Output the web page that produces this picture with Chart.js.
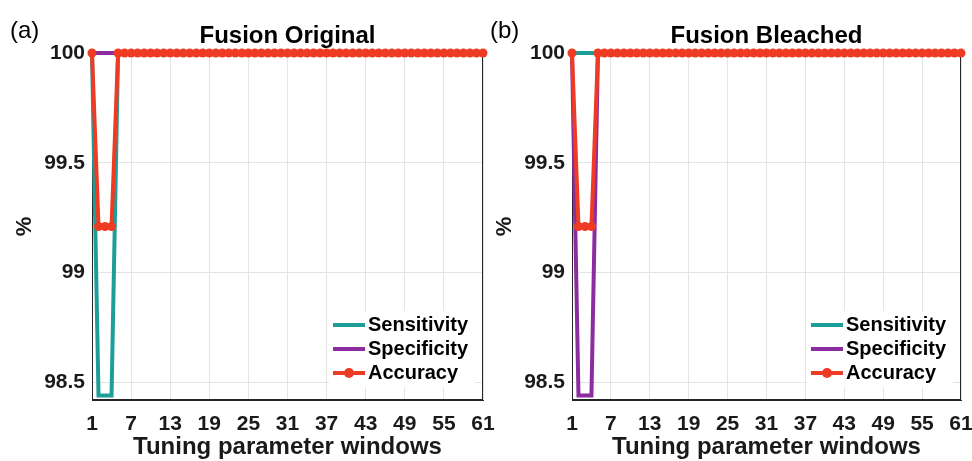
<!DOCTYPE html>
<html>
<head>
<meta charset="utf-8">
<script src="https://cdn.jsdelivr.net/npm/chart.js@4.4.0/dist/chart.umd.min.js"></script>
<style>
  body { margin: 0; background: #fff; }
  #wrap { position: relative; width: 972px; height: 461px; overflow: hidden; }
  canvas { position: absolute; top: 0; }
</style>
</head>
<body>
<div id="wrap">
  <canvas id="chartA" width="500" height="461" style="left:0px"></canvas>
  <canvas id="chartB" width="492" height="461" style="left:480px"></canvas>
</div>
<script>
// tuning windows on the x axis
const windows = [1,2,3,4,5,6,7,8,9,10,11,12,13,14,15,16,17,18,19,20,21,22,23,24,25,26,27,28,29,30,
  31,32,33,34,35,36,37,38,39,40,41,42,43,44,45,46,47,48,49,50,51,52,53,54,55,56,57,58,59,60,61];
const xTicks = [1, 7, 13, 19, 25, 31, 37, 43, 49, 55, 61];
const yTicks = [98.5, 99, 99.5, 100];
const seriesNames = ['Sensitivity', 'Specificity', 'Accuracy'];

// (a) Fusion Original
const origSensitivity = [100, 98.44, 98.44, 98.44,
  100,100,100,100,100,100,100,100,100,100,100,100,100,100,100,100,100,100,100,
  100,100,100,100,100,100,100,100,100,100,100,100,100,100,100,100,100,100,100,
  100,100,100,100,100,100,100,100,100,100,100,100,100,100,100,100,100,100,100];
const origSpecificity = [100, 100, 100, 100,
  100,100,100,100,100,100,100,100,100,100,100,100,100,100,100,100,100,100,100,
  100,100,100,100,100,100,100,100,100,100,100,100,100,100,100,100,100,100,100,
  100,100,100,100,100,100,100,100,100,100,100,100,100,100,100,100,100,100,100];
const origAccuracy = [100, 99.21, 99.21, 99.21,
  100,100,100,100,100,100,100,100,100,100,100,100,100,100,100,100,100,100,100,
  100,100,100,100,100,100,100,100,100,100,100,100,100,100,100,100,100,100,100,
  100,100,100,100,100,100,100,100,100,100,100,100,100,100,100,100,100,100,100];

// (b) Fusion Bleached
const bleSensitivity = [100, 100, 100, 100,
  100,100,100,100,100,100,100,100,100,100,100,100,100,100,100,100,100,100,100,
  100,100,100,100,100,100,100,100,100,100,100,100,100,100,100,100,100,100,100,
  100,100,100,100,100,100,100,100,100,100,100,100,100,100,100,100,100,100,100];
const bleSpecificity = [100, 98.44, 98.44, 98.44,
  100,100,100,100,100,100,100,100,100,100,100,100,100,100,100,100,100,100,100,
  100,100,100,100,100,100,100,100,100,100,100,100,100,100,100,100,100,100,100,
  100,100,100,100,100,100,100,100,100,100,100,100,100,100,100,100,100,100,100];
const bleAccuracy = [100, 99.21, 99.21, 99.21,
  100,100,100,100,100,100,100,100,100,100,100,100,100,100,100,100,100,100,100,
  100,100,100,100,100,100,100,100,100,100,100,100,100,100,100,100,100,100,100,
  100,100,100,100,100,100,100,100,100,100,100,100,100,100,100,100,100,100,100];

const colors = ['#1d9e99', '#8b2c9f', '#ee3b23'];
const FONT = '"Liberation Sans", Arial, sans-serif';
Chart.defaults.font.family = FONT;

// box, panel letter, title and the in-plot legend
const decor = {
  id: 'decor',
  beforeDatasetsDraw(chart) {
    const a = chart.chartArea, ctx = chart.ctx;
    ctx.save();
    ctx.strokeStyle = '#262626';
    ctx.lineWidth = 1;
    ctx.strokeRect(a.left + 0.5, a.top + 0.5, a.right - a.left - 1, a.bottom - a.top - 1);
    ctx.restore();
  },
  afterDraw(chart, args, opts) {
    const a = chart.chartArea, ctx = chart.ctx;
    ctx.save();
    ctx.fillStyle = '#000';
    ctx.textBaseline = 'middle';
    ctx.font = 'bold 24px ' + FONT;
    ctx.textAlign = 'center';
    ctx.fillText(opts.title, (a.left + a.right) / 2, 36);
    ctx.font = '24px ' + FONT;
    ctx.textAlign = 'left';
    ctx.fillText(opts.panel, 10, 31);

    const x0 = a.right - 150;
    ctx.fillStyle = '#fff';
    ctx.fillRect(x0 - 4, a.bottom - 89, 146, 76);
    chart.data.datasets.forEach((ds, i) => {
      const y = a.bottom - 75 + i * 24;
      ctx.strokeStyle = ds.borderColor;
      ctx.lineWidth = 4;
      ctx.beginPath();
      ctx.moveTo(x0, y);
      ctx.lineTo(x0 + 32, y);
      ctx.stroke();
      if (ds.pointRadius > 0) {
        ctx.fillStyle = ds.borderColor;
        ctx.beginPath();
        ctx.arc(x0 + 16, y, 5, 0, Math.PI * 2);
        ctx.fill();
      }
      ctx.fillStyle = '#000';
      ctx.font = 'bold 20px ' + FONT;
      ctx.fillText(ds.label, x0 + 35, y);
    });
    ctx.restore();
  }
};

function toPoints(vals) {
  return windows.map((w, i) => ({ x: w, y: vals[i] }));
}

function makeChart(id, title, panel, series, padRight) {
  const datasets = series.map((vals, i) => ({
    label: seriesNames[i],
    data: toPoints(vals),
    borderColor: colors[i],
    backgroundColor: colors[i],
    borderWidth: 4,
    pointRadius: i === 2 ? 4.5 : 0,
    pointBorderWidth: 0,
    pointBackgroundColor: colors[i],
    tension: 0,
    clip: false,
    order: 3 - i
  }));

  return new Chart(document.getElementById(id), {
    type: 'line',
    data: { datasets },
    plugins: [decor],
    options: {
      responsive: false,
      animation: false,
      layout: { padding: { top: 53, right: padRight, bottom: 0, left: 0 } },
      plugins: {
        legend: { display: false },
        tooltip: { enabled: false },
        decor: { title, panel }
      },
      scales: {
        x: {
          type: 'linear',
          min: 1,
          max: 61,
          afterBuildTicks: s => { s.ticks = xTicks.map(v => ({ value: v })); },
          afterFit: s => { s.height = 61; s.paddingLeft = 0; s.paddingRight = 0; },
          grid: { color: '#e4e4e4', drawTicks: false },
          border: { display: true, color: '#262626' },
          ticks: { padding: 12, color: '#1a1a1a', maxRotation: 0, font: { size: 21, weight: 'bold' }, callback: v => String(v) },
          title: { display: true, text: 'Tuning parameter windows', color: '#1a1a1a', padding: 0,
                   font: { size: 24, weight: 'bold', lineHeight: 1.1 } }
        },
        y: {
          min: 98.42,
          max: 100,
          afterBuildTicks: s => { s.ticks = yTicks.map(v => ({ value: v })); },
          afterFit: s => { s.width = 92; s.paddingTop = 0; s.paddingBottom = 0; },
          grid: { color: '#e4e4e4', drawTicks: false },
          border: { display: true, color: '#262626' },
          ticks: { padding: 7, color: '#1a1a1a', font: { size: 21, weight: 'bold' }, callback: v => String(v) },
          title: { display: true, text: '%', color: '#1a1a1a', padding: { top: 12, bottom: 0 },
                   font: { size: 22, weight: 'bold' } }
        }
      }
    }
  });
}

makeChart('chartA', 'Fusion Original', '(a)', [origSensitivity, origSpecificity, origAccuracy], 17);
makeChart('chartB', 'Fusion Bleached', '(b)', [bleSensitivity, bleSpecificity, bleAccuracy], 11);
</script>
</body>
</html>
